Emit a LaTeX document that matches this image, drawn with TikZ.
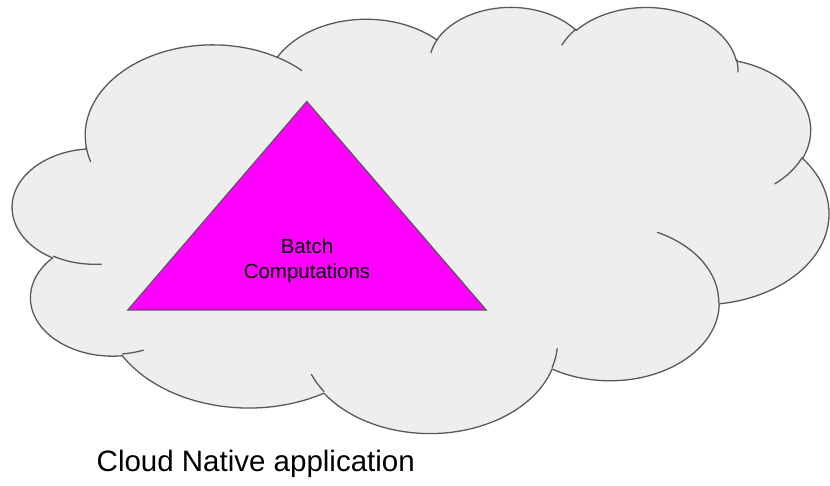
\documentclass[tikz,border=0pt]{standalone}
\usepackage{fontspec}
\setmainfont{Liberation Sans}
\definecolor{cloudfill}{HTML}{EEEEEE}
\definecolor{cloudline}{HTML}{595959}
\definecolor{batchfill}{HTML}{FF00FF}

% Elliptical arc given by radii, start angle and sweep, both measured as
% ray angles from the centre (DrawingML convention), converted to the
% parametric angles that TikZ's arc expects.
\newcommand\cloudarc[4]{%
  \pgfextra{%
    \pgfmathsetmacro\cloudS{atan2(#1*sin(#3),#2*cos(#3))}%
    \pgfmathsetmacro\cloudE{atan2(#1*sin(#3+#4),#2*cos(#3+#4))}%
    \pgfmathsetmacro\cloudD{mod(\cloudE-\cloudS+720,360)}%
    \xdef\cloudS{\cloudS}\xdef\cloudD{\cloudD}%
  }%
  arc[start angle=\cloudS, delta angle=\cloudD, x radius=#1, y radius=#2]%
}

\tikzset{
  cloudshape/.style={draw=cloudline, fill=cloudfill, line width=1.3pt, line join=round},
  cloudedge/.style={draw=cloudline, line width=1.3pt, line cap=round},
  batchshape/.style={draw=cloudline, fill=batchfill, line width=1.2pt, line join=miter},
  labeltext/.style={inner sep=0pt, font=\fontsize{20.5}{24}\selectfont},
  captiontext/.style={inner sep=0pt, font=\fontsize{29.5}{35}\selectfont},
}

\begin{document}
\begin{tikzpicture}[x=1pt, y=-1pt]
\useasboundingbox (0,0) rectangle (830,485);

% the cloud, in a 432 x 432 frame
\begin{scope}[shift={(12.7pt,-6pt)}, x=1.888889pt, y=-0.986111pt]
  \draw[cloudshape] (39.00,143.70)
    \cloudarc{67.53}{91.90}{-190.4875}{123.7805}
    \cloudarc{53.33}{72.67}{-144.1024}{89.9452}
    \cloudarc{43.65}{59.45}{-145.8079}{99.7230}
    \cloudarc{48.57}{65.95}{-130.9861}{117.2417}
    \cloudarc{53.33}{72.73}{-78.7089}{109.0269}
    \cloudarc{67.75}{92.20}{-46.2673}{130.2690}
    \cloudarc{57.85}{78.67}{0.6250}{114.0333}
    \cloudarc{67.52}{92.15}{22.4516}{115.1726}
    \cloudarc{77.20}{105.43}{66.2426}{75.7110}
    \cloudarc{43.60}{59.18}{-274.9421}{146.7356}
    \cloudarc{43.45}{59.45}{-246.8285}{152.5189}
    -- cycle;
  % inner strokes where the puffs overlap
  \draw[cloudedge]
    (46.93,261.77) \cloudarc{43.45}{59.45}{86.7420}{26.4295}
    (69.28,348.99) \cloudarc{43.60}{59.18}{73.6105}{11.4475}
    (164.78,390.90) \cloudarc{67.52}{92.15}{137.6242}{14.0811}
    (288.27,347.51) \cloudarc{67.52}{92.15}{6.4533}{15.9984}
    (341.29,229.54) \cloudarc{57.85}{78.67}{-70.2924}{70.9174}
    (417.98,153.54) \cloudarc{53.33}{72.73}{30.3180}{27.7515}
    (383.24,54.26) \cloudarc{48.57}{65.95}{-13.7443}{14.8589}
    (290.78,39.52) \cloudarc{48.57}{65.95}{-149.1815}{18.1954}
    (221.41,47.20) \cloudarc{43.65}{59.45}{-163.4943}{17.6864}
    (140.00,51.92) \cloudarc{67.53}{91.90}{-66.7070}{12.3194}
    (41.27,157.89) \cloudarc{67.53}{91.90}{157.6544}{11.8582};
\end{scope}

% triangle
\coordinate (apex) at (306.8,101.5);
\coordinate (baseleft) at (127.8,310);
\coordinate (baseright) at (486.2,310);
\draw[batchshape] (baseleft) -- (baseright) -- (apex) -- cycle;

\node[labeltext, anchor=base] (batch) at (307,253.3) {Batch};
\node[labeltext, anchor=base] (computations) at (307,278) {Computations};

\node[captiontext, anchor=base west] (caption) at (96.5,471.7) {Cloud Native application};
\end{tikzpicture}
\end{document}
